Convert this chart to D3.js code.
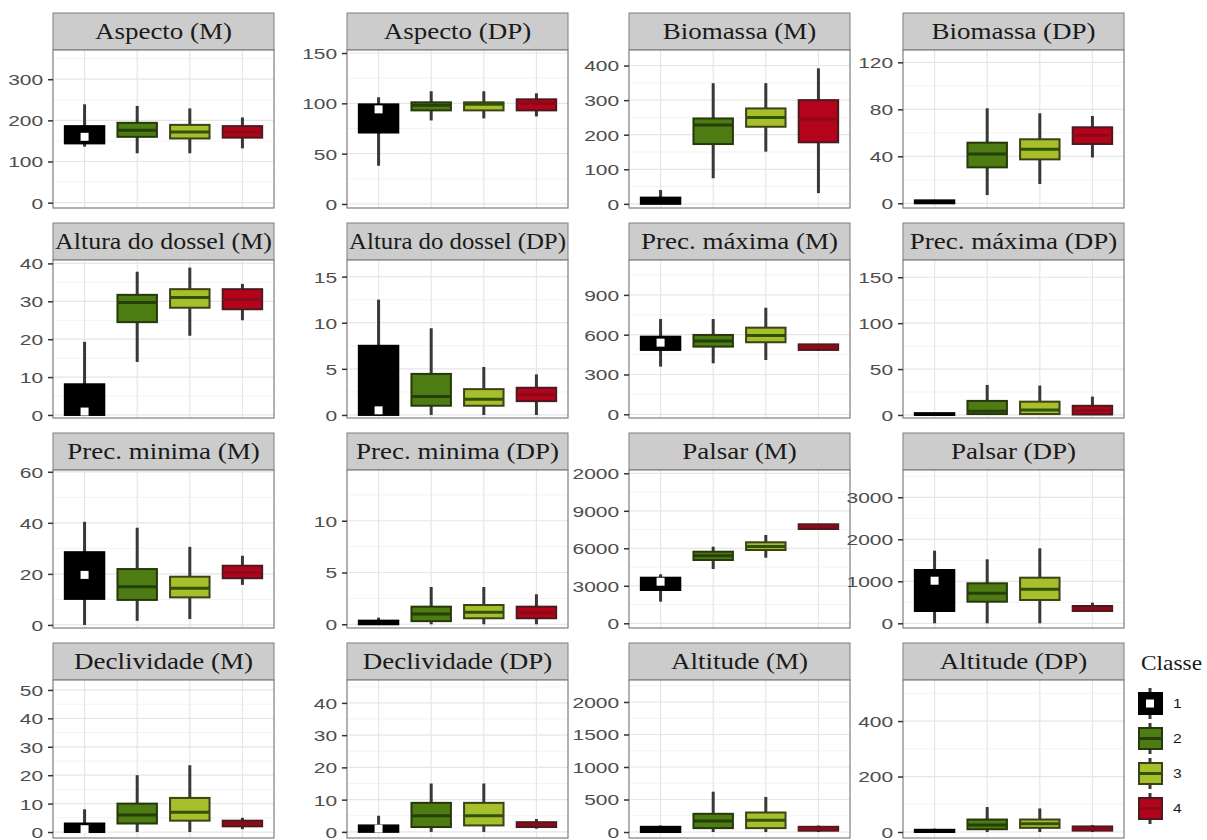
<!DOCTYPE html>
<html>
<head>
<meta charset="utf-8">
<script src="https://cdnjs.cloudflare.com/ajax/libs/d3/7.8.5/d3.min.js"></script>
<style>
body { margin: 0; background: #fff; }
svg { display: block; }
</style>
</head>
<body>
<svg id="chart"></svg>
<script>
// classes and facet titles
var classes = ["1", "2", "3", "4"];
var titles = ["Aspecto (M)", "Aspecto (DP)", "Biomassa (M)", "Biomassa (DP)",
    "Altura do dossel (M)", "Altura do dossel (DP)", "Prec. máxima (M)", "Prec. máxima (DP)",
    "Prec. minima (M)", "Prec. minima (DP)", "Palsar (M)", "Palsar (DP)",
    "Declividade (M)", "Declividade (DP)", "Altitude (M)", "Altitude (DP)"];

// free y scales, one per facet
var yDomains = [[-13, 371], [-4, 153], [-12, 445], [-4, 130.5],
    [-0.8, 40.9], [-0.33, 16.8], [-28, 1163], [-3.3, 168.8],
    [-1.2, 60.7], [-0.36, 14.9], [-376, 12264], [-112, 3650],
    [-2.1, 53.5], [-1.9, 47.1], [-92, 2338], [-21.6, 548]];
var yTicks = [[0, 100, 200, 300], [0, 50, 100, 150], [0, 100, 200, 300, 400], [0, 40, 80, 120],
    [0, 10, 20, 30, 40], [0, 5, 10, 15], [0, 300, 600, 900], [0, 50, 100, 150],
    [0, 20, 40, 60], [0, 5, 10], [0, 3000, 6000, 9000, 12000], [0, 1000, 2000, 3000],
    [0, 10, 20, 30, 40, 50], [0, 10, 20, 30, 40], [0, 500, 1000, 1500, 2000], [0, 200, 400]];
var yTickLabels = [["0", "100", "200", "300"], ["0", "50", "100", "150"], ["0", "100", "200", "300", "400"], ["0", "40", "80", "120"],
    ["0", "10", "20", "30", "40"], ["0", "5", "10", "15"], ["0", "300", "600", "900"], ["0", "50", "100", "150"],
    ["0", "20", "40", "60"], ["0", "5", "10"], ["0", "3000", "6000", "9000", "2000"], ["0", "1000", "2000", "3000"],
    ["0", "10", "20", "30", "40", "50"], ["0", "10", "20", "30", "40"], ["0", "500", "1000", "1500", "2000"], ["0", "200", "400"]];

// box statistics: one row per facet, one value per class
var lower = [[136, 120, 120, 132], [38, 83, 85, 87], [0, 74, 151, 31], [0, 7, 16.4, 39],
    [0, 14, 20.9, 25], [0, 0, 0, 0], [359, 384, 409, 480], [0, 0, 0, 0],
    [0, 1.6, 2.3, 15.7], [0, 0, 0, 0], [1728, 4344, 5248, 7500], [0, 0, 0, 280],
    [0, 0, 0, 1], [0, 0, 0, 1], [0, 0, 0, 0], [0, 0, 0, 0]];
var q1 = [[144, 160, 156, 158], [71, 93, 93, 93], [0, 173, 223, 178], [0, 30.6, 37.4, 50.5],
    [0, 24.5, 28.3, 27.9], [0, 1.0, 1.0, 1.5], [485, 510, 543, 485], [0, 1, 1, 0.5],
    [10.2, 9.8, 10.8, 18.3], [0, 0.3, 0.58, 0.58], [2664, 5064, 5864, 7544], [293, 514, 555, 293],
    [0, 3, 4, 2], [0, 1.5, 2, 1.5], [0, 60, 60, 20], [0, 10, 15, 5]];
var median = [[170, 176, 172, 172], [90, 98, 99, 100], [5, 228, 250, 245], [1, 42, 46, 58],
    [1, 29.7, 31, 30.5], [0.5, 2.0, 1.7, 2.2], [530, 553, 593, 505], [0.5, 4, 5.4, 5],
    [19, 15, 14.4, 20.5], [0.1, 1.0, 1.15, 1.1], [3300, 5400, 6150, 7730], [900, 714, 810, 350],
    [1, 6, 7, 3], [0.5, 5, 5, 2.3], [30, 170, 180, 50], [3, 25, 30, 12]];
var q3 = [[186, 194, 189, 186], [99, 101, 101, 104], [18, 247, 276, 300], [2.5, 51.6, 54.5, 64.7],
    [8.1, 31.7, 33.2, 33.2], [7.5, 4.45, 2.8, 2.95], [585, 598, 653, 527], [2, 15.3, 14.5, 10],
    [28.5, 21.9, 18.9, 23.2], [0.35, 1.7, 1.86, 1.7], [3648, 5728, 6480, 7920], [1269, 952, 1086, 412],
    [3, 10, 12, 4], [2, 9, 9, 3], [80, 280, 300, 80], [8, 45, 45, 20]];
var upper = [[239, 235, 229, 207], [106, 112, 112, 110], [40, 349, 349, 392], [3, 80.9, 76.6, 74.3],
    [19.3, 37.8, 38.9, 34.6], [12.5, 9.4, 5.2, 4.4], [718, 718, 803, 530], [2, 32.7, 32, 20],
    [40.4, 38.1, 30.6, 27.1], [0.64, 3.6, 3.6, 2.9], [3920, 6128, 7064, 7950], [1729, 1524, 1786, 490],
    [8, 20, 23.5, 5], [5, 15, 15, 4], [100, 620, 540, 100], [12, 90, 85, 25]];
// white point shown inside the class 1 box (null where hidden)
var meanClass1 = [160, 94, null, null, 0.9, 0.5, 540, null,
    19.6, null, 3328, 1014, 1, 1, null, null];

var fills = ["#000000", "#4d7c12", "#a8bf2c", "#b3041b"];
var outlines = ["#000000", "#27380d", "#3b4218", "#4a1a1e"];
var medianColors = ["#000000", "#263f08", "#2f520b", "#8a0a1a"];

var W = 1207, H = 840;
var colLeft = [53, 347, 629, 903];
var rowTop = [13, 223, 433, 643];
var panelW = 221, stripH = 37, panelH = 158;
var serif = "'Liberation Serif', 'Times New Roman', serif";
var sans = "'Liberation Sans', Arial, sans-serif";

var svg = d3.select("#chart").attr("width", W).attr("height", H);
var defs = svg.append("defs");

var x = d3.scalePoint().domain(classes).range([0, panelW]).padding(0.6);
var boxW = x.step() * 0.75;

titles.forEach(function (title, i) {
    var g = svg.append("g")
        .attr("transform", "translate(" + colLeft[i % 4] + "," + rowTop[Math.floor(i / 4)] + ")");

    // strip, title stretched like the original and squeezed when too long
    defs.append("clipPath").attr("id", "strip" + i)
        .append("rect").attr("width", panelW).attr("height", stripH);
    g.append("rect").attr("width", panelW).attr("height", stripH)
        .attr("fill", "#cccccc").attr("stroke", "#7f7f7f").attr("stroke-width", 1);
    var t = g.append("g").attr("clip-path", "url(#strip" + i + ")")
        .append("text")
        .attr("text-anchor", "middle")
        .style("font-family", serif).style("font-size", "22.5px").attr("fill", "#1a1a1a")
        .text(title);
    var sx = Math.min(1.2, (panelW - 4) / t.node().getComputedTextLength());
    t.attr("transform", "translate(" + panelW / 2 + "," + (stripH / 2 + 7.5) + ") scale(" + sx + ",1)");

    var p = g.append("g").attr("transform", "translate(0," + stripH + ")");
    var y = d3.scaleLinear().domain(yDomains[i]).range([panelH, 0]);
    var ticks = yTicks[i];

    p.append("rect").attr("width", panelW).attr("height", panelH).attr("fill", "#fff");

    // minor grid: half way between breaks
    var step = ticks[1] - ticks[0];
    var minor = [];
    for (var k = 0; k <= ticks.length; k++) {
        var v = ticks[0] + (k - 0.5) * step;
        if (v > yDomains[i][0] && v < yDomains[i][1]) minor.push(v);
    }
    p.selectAll("line.minor").data(minor).enter().append("line")
        .attr("x1", 0).attr("x2", panelW)
        .attr("y1", function (d) { return y(d); }).attr("y2", function (d) { return y(d); })
        .attr("stroke", "#f3f3f3").attr("stroke-width", 1);
    p.selectAll("line.major").data(ticks).enter().append("line")
        .attr("x1", 0).attr("x2", panelW)
        .attr("y1", function (d) { return y(d); }).attr("y2", function (d) { return y(d); })
        .attr("stroke", "#e6e6e6").attr("stroke-width", 1.2);
    p.selectAll("line.vgrid").data(classes).enter().append("line")
        .attr("x1", function (d) { return x(d); }).attr("x2", function (d) { return x(d); })
        .attr("y1", 0).attr("y2", panelH)
        .attr("stroke", "#e6e6e6").attr("stroke-width", 1.2);

    // boxes
    var rows = classes.map(function (c, j) {
        return { c: c, j: j, lo: lower[i][j], q1: q1[i][j], med: median[i][j], q3: q3[i][j], hi: upper[i][j] };
    });
    var box = p.selectAll("g.box").data(rows).enter().append("g");
    box.append("line")
        .attr("x1", function (d) { return x(d.c); }).attr("x2", function (d) { return x(d.c); })
        .attr("y1", function (d) { return y(d.lo); }).attr("y2", function (d) { return y(d.hi); })
        .attr("stroke", "#383838").attr("stroke-width", 3);
    box.append("rect")
        .attr("x", function (d) { return x(d.c) - boxW / 2; })
        .attr("y", function (d) { return y(d.q3); })
        .attr("width", boxW)
        .attr("height", function (d) { return Math.max(1, y(d.q1) - y(d.q3)); })
        .attr("fill", function (d) { return fills[d.j]; })
        .attr("stroke", function (d) { return outlines[d.j]; })
        .attr("stroke-width", 2);
    box.append("line")
        .attr("x1", function (d) { return x(d.c) - boxW / 2; })
        .attr("x2", function (d) { return x(d.c) + boxW / 2; })
        .attr("y1", function (d) { return y(d.med); }).attr("y2", function (d) { return y(d.med); })
        .attr("stroke", function (d) { return medianColors[d.j]; })
        .attr("stroke-width", 3);
    if (meanClass1[i] !== null) {
        p.append("rect")
            .attr("x", x(classes[0]) - 4).attr("y", y(meanClass1[i]) - 4)
            .attr("width", 8).attr("height", 8).attr("fill", "#fff");
    }

    p.append("rect").attr("width", panelW).attr("height", panelH)
        .attr("fill", "none").attr("stroke", "#7f7f7f").attr("stroke-width", 1.2);

    // y axis
    var axis = p.append("g").call(d3.axisLeft(y).tickValues(ticks).tickSize(5).tickPadding(2)
        .tickFormat(function (d, k) { return yTickLabels[i][k]; }));
    axis.select(".domain").remove();
    axis.selectAll(".tick line").attr("stroke", "#333").attr("stroke-width", 1.5);
    axis.selectAll(".tick text")
        .attr("transform", "scale(1.4,1)")
        .attr("dy", "0.36em")
        .style("font-family", sans).style("font-size", "15px").attr("fill", "#4d4d4d");
});

// legend
var lg = svg.append("g").attr("transform", "translate(1137,0)");
lg.append("text").attr("transform", "translate(4,670) scale(1.17,1)")
    .style("font-family", serif).style("font-size", "20px").attr("fill", "#1a1a1a")
    .text("Classe");
var keys = lg.selectAll("g.key").data(classes).enter().append("g")
    .attr("transform", function (d, k) { return "translate(0," + (686 + k * 35) + ")"; });
keys.append("line").attr("x1", 13).attr("x2", 13).attr("y1", 2).attr("y2", 33)
    .attr("stroke", "#383838").attr("stroke-width", 3);
keys.append("rect").attr("x", 2).attr("y", 7).attr("width", 23).attr("height", 21)
    .attr("fill", function (d, k) { return fills[k]; })
    .attr("stroke", function (d, k) { return outlines[k]; }).attr("stroke-width", 2);
keys.append("line").attr("x1", 2).attr("x2", 25).attr("y1", 17.5).attr("y2", 17.5)
    .attr("stroke", function (d, k) { return medianColors[k]; }).attr("stroke-width", 3);
keys.filter(function (d, k) { return k === 0; }).append("rect")
    .attr("x", 9).attr("y", 13.5).attr("width", 8).attr("height", 8).attr("fill", "#fff");
keys.append("text").attr("transform", "translate(36,22) scale(1.3,1)")
    .style("font-family", sans).style("font-size", "12px").attr("fill", "#1a1a1a")
    .text(function (d) { return d; });
</script>
</body>
</html>
